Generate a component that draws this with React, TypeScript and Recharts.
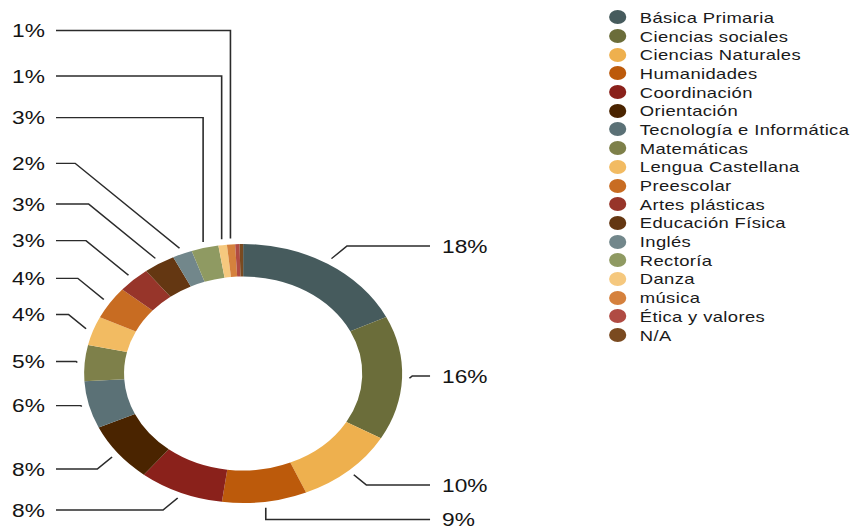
import React from "react"
import { Legend, Pie, PieChart } from "recharts"

// subjects, clockwise from 12 o'clock
const subjects = [
  "Básica Primaria",
  "Ciencias sociales",
  "Ciencias Naturales",
  "Humanidades",
  "Coordinación",
  "Orientación",
  "Tecnología e Informática",
  "Matemáticas",
  "Lengua Castellana",
  "Preescolar",
  "Artes plásticas",
  "Educación Física",
  "Inglés",
  "Rectoría",
  "Danza",
  "música",
  "Ética y valores",
  "N/A",
]

// share of the ring
const shares = [17.8, 15.5, 10.2, 8.6, 8.6, 7.4, 5.9, 4.5, 3.6, 4.1, 3.3, 3.2, 2.0, 2.75, 0.86, 0.83, 0.44, 0.36]

// printed labels
const percentLabels = ["18%", "16%", "10%", "9%", "8%", "8%", "6%", "5%", "4%", "4%", "3%", "3%", "2%", "3%", "1%", "1%", "", ""]

const colors = [
  "#465b5d",
  "#6b6d3a",
  "#eeb04e",
  "#bc5a0b",
  "#8a211b",
  "#4a2400",
  "#5b7176",
  "#7e804a",
  "#f2bb62",
  "#c86c22",
  "#97352a",
  "#643712",
  "#72878b",
  "#8f9a62",
  "#f5c87e",
  "#d5813d",
  "#b04b43",
  "#7a4a20",
]

// layout of the percentage callouts (y of each label row, and how the leader bends)
const labelRows = [246, 376, 485, 519.5, 510, 469, 405.7, 361.5, 314.5, 278.3, 240.7, 204, 163.3, 117.7, 76, 30.5, null, null]
const bends = ["diag", "diag", "diag", "vert", "diag", "diag", "diag", "diag", "diag", "diag", "diag", "diag", "diag", "vert", "vert", "vert", "", ""]

const data = subjects.map((name, i) => ({ name, value: shares[i], fill: colors[i] }))

const STRETCH = 1.228
const W = 698
const H = 529
const RAD = Math.PI / 180
const LEFT_TEXT_X = 36.6
const LEFT_LINE_X = 45.6
const RIGHT_LINE_X = 350.2
const RIGHT_TEXT_X = 360

const renderLabel = (props: any) => {
  const { cx, cy, midAngle, outerRadius, index } = props
  const y = labelRows[index]
  if (y == null) return null
  const r = outerRadius + 6
  const ax = cx + r * Math.cos(-midAngle * RAD)
  const ay = cy + r * Math.sin(-midAngle * RAD)
  const right = ax > cx
  const endX = right ? RIGHT_LINE_X : LEFT_LINE_X
  let pts: number[][]
  if (bends[index] === "vert") {
    pts = [[ax, ay], [ax, y], [endX, y]]
  } else {
    const dy = Math.abs(y - ay)
    pts = [[ax, ay], [right ? ax + dy : ax - dy, y], [endX, y]]
  }
  return (
    <g key={`lbl-${index}`}>
      <polyline
        points={pts.map((p) => p.join(",")).join(" ")}
        fill="none"
        stroke="#2b2b2b"
        strokeWidth={1.3}
      />
      <text
        x={right ? RIGHT_TEXT_X : LEFT_TEXT_X}
        y={y}
        textAnchor={right ? "start" : "end"}
        dominantBaseline="central"
        fontSize={18.5}
        fill="#141414"
      >
        {percentLabels[index]}
      </text>
    </g>
  )
}

const renderLegend = (props: any) => {
  // keep the slice order, not alphabetical
  const payload = [...(props.payload || [])].sort(
    (a: any, b: any) => subjects.indexOf(a.value) - subjects.indexOf(b.value)
  )
  return (
    <div>
      {payload.map((entry: any, i: number) => (
        <div key={i} style={{ display: "flex", alignItems: "center", height: 18.7 }}>
          <span
            style={{
              display: "inline-block",
              width: 14,
              height: 14,
              borderRadius: "50%",
              backgroundColor: entry.color,
              marginRight: 11,
            }}
          />
          <span style={{ fontSize: 15, letterSpacing: 0.3, color: "#1a1a1a", whiteSpace: "nowrap" }}>
            {entry.value}
          </span>
        </div>
      ))}
    </div>
  )
}

export default function App() {
  return (
    <div
      style={{
        position: "absolute",
        left: 0,
        top: 0,
        width: W,
        height: H,
        transform: `scaleX(${STRETCH})`,
        transformOrigin: "0 0",
        fontFamily: "'Liberation Sans', Arial, sans-serif",
        background: "#fff",
      }}
    >
      <PieChart width={W} height={H} margin={{ top: 0, right: 0, bottom: 0, left: 0 }}>
        <Pie
          data={data}
          dataKey="value"
          nameKey="name"
          cx={198}
          cy={373.5}
          innerRadius={97}
          outerRadius={129.5}
          startAngle={90}
          endAngle={-270}
          stroke="none"
          label={renderLabel}
          labelLine={false}
          isAnimationActive={false}
        />
        <Legend
          layout="vertical"
          align="right"
          verticalAlign="top"
          content={renderLegend}
          wrapperStyle={{ left: 496, top: 8, width: 200, right: "auto" }}
        />
      </PieChart>
    </div>
  )
}
